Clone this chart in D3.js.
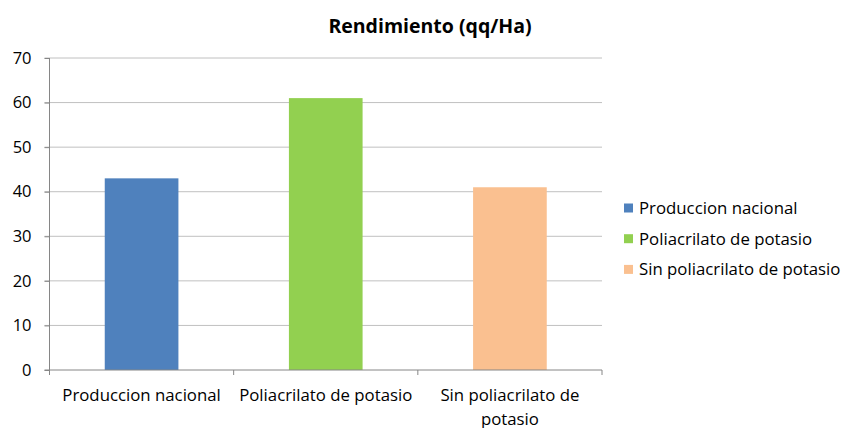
<!DOCTYPE html>
<html>
<head>
<meta charset="utf-8">
<script src="https://cdnjs.cloudflare.com/ajax/libs/d3/7.8.5/d3.min.js"></script>
<style>
  body { margin: 0; background: #fff; }
  svg text { font-family: "Open Sans", "Liberation Sans", sans-serif; fill: #000; }
  .axis path, .axis line { stroke: #868686; }
  .grid line { stroke: #c0c0c0; }
</style>
</head>
<body>
<div id="vis"></div>
<script>
// chart data
var categories = ["Produccion nacional", "Poliacrilato de potasio", "Sin poliacrilato de potasio"];
var values = [43, 61, 41];
var colors = ["#4f81bd", "#92d050", "#fac090"];
var yTicks = [0, 10, 20, 30, 40, 50, 60, 70];
// x-axis labels as shown (last one wraps)
var xLabels = [["Produccion nacional"], ["Poliacrilato de potasio"], ["Sin poliacrilato de", "potasio"]];

var margin = {top: 58, left: 49.5, right: 243, bottom: 58};
var W = 845, H = 428;
var width = W - margin.left - margin.right;
var height = H - margin.top - margin.bottom;

var svg = d3.select("#vis").append("svg")
    .attr("width", W)
    .attr("height", H);

var g = svg.append("g")
    .attr("transform", "translate(" + margin.left + "," + margin.top + ")");

var xScale = d3.scaleBand()
    .domain(categories)
    .range([0, width])
    .paddingInner(0.6)
    .paddingOuter(0.3);

var yScale = d3.scaleLinear()
    .domain([0, 70])
    .range([height, 0]);

// gridlines
g.append("g").attr("class", "grid")
    .selectAll("line").data(yTicks.filter(function(d) { return d > 0; }))
    .enter().append("line")
    .attr("x1", -5).attr("x2", width)
    .attr("y1", function(d) { return yScale(d); })
    .attr("y2", function(d) { return yScale(d); });

// y axis
var yAxis = d3.axisLeft(yScale).tickValues(yTicks).tickSize(5).tickPadding(13);
var yG = g.append("g").attr("class", "axis").call(yAxis);
yG.select(".domain").attr("d", "M0," + (height + 5) + "V0");
yG.selectAll(".tick line").attr("stroke", function(d) { return d > 0 ? "#c0c0c0" : "#868686"; });
yG.selectAll("text").style("font-size", "16.5px").attr("fill", "#000");

// bars
g.selectAll("rect.bar").data(values)
    .enter().append("rect")
    .attr("class", "bar")
    .attr("x", function(d, i) { return xScale(categories[i]); })
    .attr("width", xScale.bandwidth())
    .attr("y", function(d) { return yScale(d); })
    .attr("height", function(d) { return height - yScale(d); })
    .style("fill", function(d, i) { return colors[i]; });

// x axis baseline and category ticks
var xG = g.append("g").attr("class", "axis")
    .attr("transform", "translate(0," + height + ")");
xG.append("line").attr("x1", -5).attr("x2", width).attr("y1", 0).attr("y2", 0);
var step = width / categories.length;
xG.selectAll("line.tk").data(d3.range(categories.length + 1))
    .enter().append("line").attr("class", "tk")
    .attr("x1", function(d) { return d * step; })
    .attr("x2", function(d) { return d * step; })
    .attr("y1", 0).attr("y2", 5);

xG.selectAll("text.lbl").data(xLabels)
    .enter().append("text").attr("class", "lbl")
    .attr("text-anchor", "middle")
    .attr("x", function(d, i) { return xScale(categories[i]) + xScale.bandwidth() / 2; })
    .attr("y", 31)
    .style("font-size", "16.8px")
    .selectAll("tspan").data(function(d) { return d; })
    .enter().append("tspan")
    .attr("x", function() { return d3.select(this.parentNode).attr("x"); })
    .attr("dy", function(d, i) { return i === 0 ? 0 : 23.5; })
    .text(function(d) { return d; });

// title
svg.append("text")
    .attr("x", 430).attr("y", 33)
    .attr("text-anchor", "middle")
    .style("font-size", "19.5px")
    .style("font-weight", "bold")
    .text("Rendimiento (qq/Ha)");

// legend
var legend = svg.append("g").attr("transform", "translate(624,208)");
var items = legend.selectAll("g").data(categories)
    .enter().append("g")
    .attr("transform", function(d, i) { return "translate(0," + (i * 30.7) + ")"; });
items.append("rect")
    .attr("x", 0).attr("y", -4.5).attr("width", 9).attr("height", 9)
    .style("fill", function(d, i) { return colors[i]; });
items.append("text")
    .attr("x", 15).attr("y", 0).attr("dy", "0.35em")
    .style("font-size", "16.8px")
    .text(function(d) { return d; });
</script>
</body>
</html>
